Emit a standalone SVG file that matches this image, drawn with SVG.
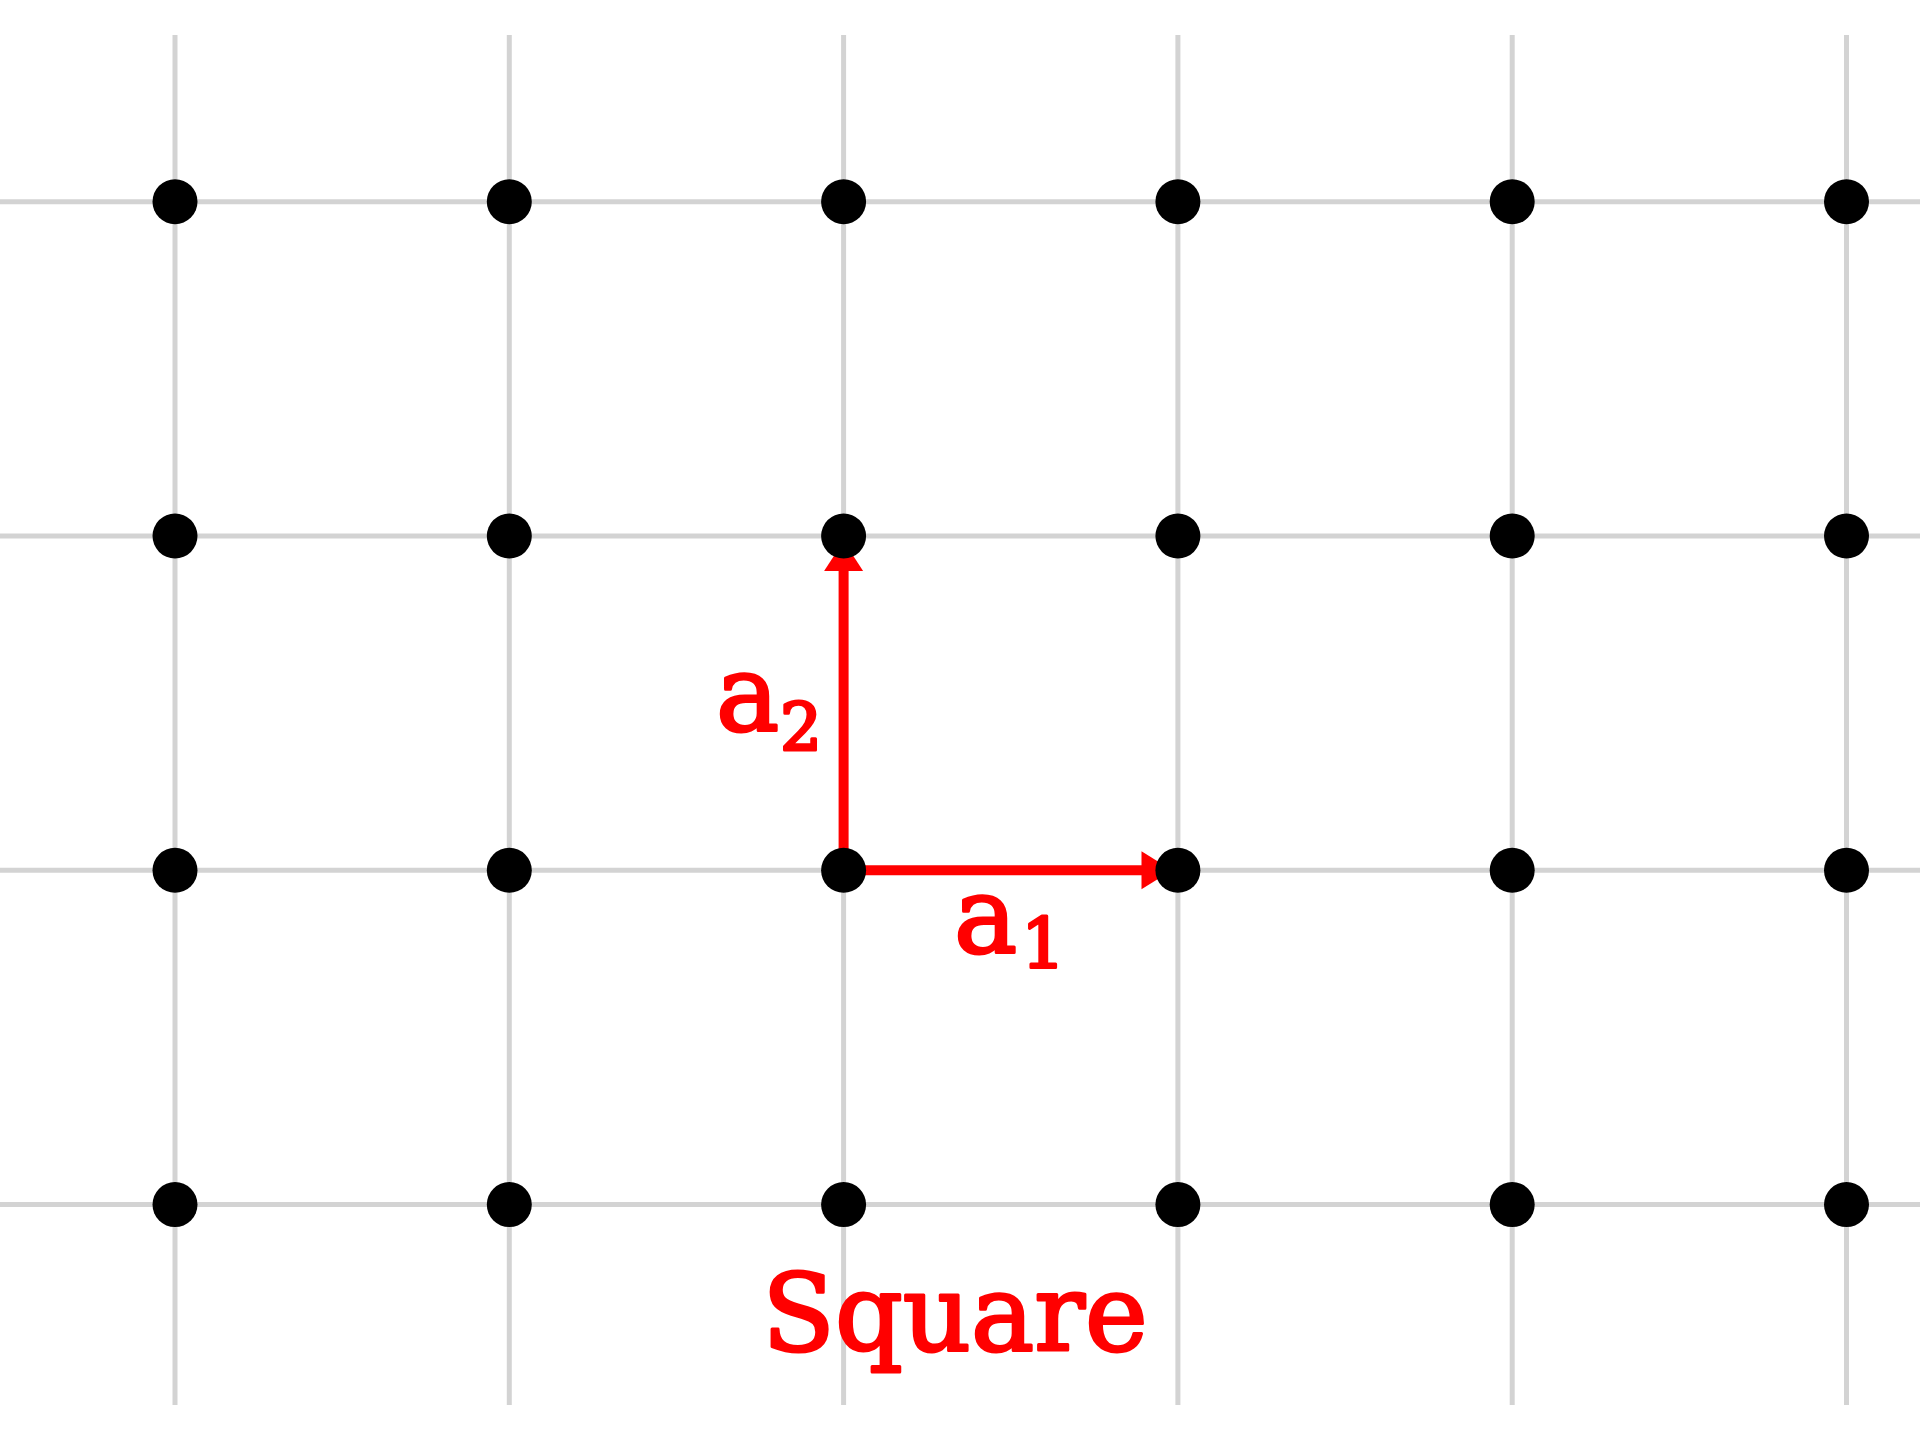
<svg xmlns="http://www.w3.org/2000/svg" width="1920" height="1440" viewBox="0 0 1920 1440">
<style>
.grid{stroke:#d3d3d3;stroke-width:5;fill:none}
.dot{fill:#000}
.vec{stroke:#ff0000;stroke-width:10;fill:none}
.head{fill:#ff0000}
.lbl{fill:#ff0000;stroke:#ff0000;stroke-width:3;stroke-linejoin:round;font-family:"DejaVu Serif","Liberation Serif",serif}
</style>
<rect width="1920" height="1440" fill="#fff"/>
<g id="grid" class="grid">
<line x1="175" y1="35" x2="175" y2="1405"/>
<line x1="509.3" y1="35" x2="509.3" y2="1405"/>
<line x1="843.6" y1="35" x2="843.6" y2="1405"/>
<line x1="1177.9" y1="35" x2="1177.9" y2="1405"/>
<line x1="1512.2" y1="35" x2="1512.2" y2="1405"/>
<line x1="1846.5" y1="35" x2="1846.5" y2="1405"/>
<line x1="0" y1="201.7" x2="1920" y2="201.7"/>
<line x1="0" y1="536" x2="1920" y2="536"/>
<line x1="0" y1="870.3" x2="1920" y2="870.3"/>
<line x1="0" y1="1204.6" x2="1920" y2="1204.6"/>
</g>
<g id="connectors">
<g id="a1-vector">
<line class="vec" x1="843.6" y1="870.3" x2="1145" y2="870.3"/>
<polygon class="head" points="1141.5,851.3 1172,870.3 1141.5,889.3"/>
</g>
<g id="a2-vector">
<line class="vec" x1="843.6" y1="870.3" x2="843.6" y2="567"/>
<polygon class="head" points="824.1,571 843.6,541 863.1,571"/>
</g>
</g>
<g id="nodes">
<g id="n-0-0"><circle class="dot" cx="175" cy="201.7" r="22.5"/></g>
<g id="n-1-0"><circle class="dot" cx="509.3" cy="201.7" r="22.5"/></g>
<g id="n-2-0"><circle class="dot" cx="843.6" cy="201.7" r="22.5"/></g>
<g id="n-3-0"><circle class="dot" cx="1177.9" cy="201.7" r="22.5"/></g>
<g id="n-4-0"><circle class="dot" cx="1512.2" cy="201.7" r="22.5"/></g>
<g id="n-5-0"><circle class="dot" cx="1846.5" cy="201.7" r="22.5"/></g>
<g id="n-0-1"><circle class="dot" cx="175" cy="536" r="22.5"/></g>
<g id="n-1-1"><circle class="dot" cx="509.3" cy="536" r="22.5"/></g>
<g id="n-2-1"><circle class="dot" cx="843.6" cy="536" r="22.5"/></g>
<g id="n-3-1"><circle class="dot" cx="1177.9" cy="536" r="22.5"/></g>
<g id="n-4-1"><circle class="dot" cx="1512.2" cy="536" r="22.5"/></g>
<g id="n-5-1"><circle class="dot" cx="1846.5" cy="536" r="22.5"/></g>
<g id="n-0-2"><circle class="dot" cx="175" cy="870.3" r="22.5"/></g>
<g id="n-1-2"><circle class="dot" cx="509.3" cy="870.3" r="22.5"/></g>
<g id="n-2-2"><circle class="dot" cx="843.6" cy="870.3" r="22.5"/></g>
<g id="n-3-2"><circle class="dot" cx="1177.9" cy="870.3" r="22.5"/></g>
<g id="n-4-2"><circle class="dot" cx="1512.2" cy="870.3" r="22.5"/></g>
<g id="n-5-2"><circle class="dot" cx="1846.5" cy="870.3" r="22.5"/></g>
<g id="n-0-3"><circle class="dot" cx="175" cy="1204.6" r="22.5"/></g>
<g id="n-1-3"><circle class="dot" cx="509.3" cy="1204.6" r="22.5"/></g>
<g id="n-2-3"><circle class="dot" cx="843.6" cy="1204.6" r="22.5"/></g>
<g id="n-3-3"><circle class="dot" cx="1177.9" cy="1204.6" r="22.5"/></g>
<g id="n-4-3"><circle class="dot" cx="1512.2" cy="1204.6" r="22.5"/></g>
<g id="n-5-3"><circle class="dot" cx="1846.5" cy="1204.6" r="22.5"/></g>
</g>
<g id="labels">
<text class="lbl" x="954" y="952" font-size="106">a</text>
<text class="lbl" x="1021" y="968" font-size="70">1</text>
<text class="lbl" x="716" y="730" font-size="106">a</text>
<text class="lbl" x="780" y="750" font-size="66">2</text>
<text class="lbl" x="955" y="1350" font-size="106" text-anchor="middle">Square</text>
</g>
</svg>
